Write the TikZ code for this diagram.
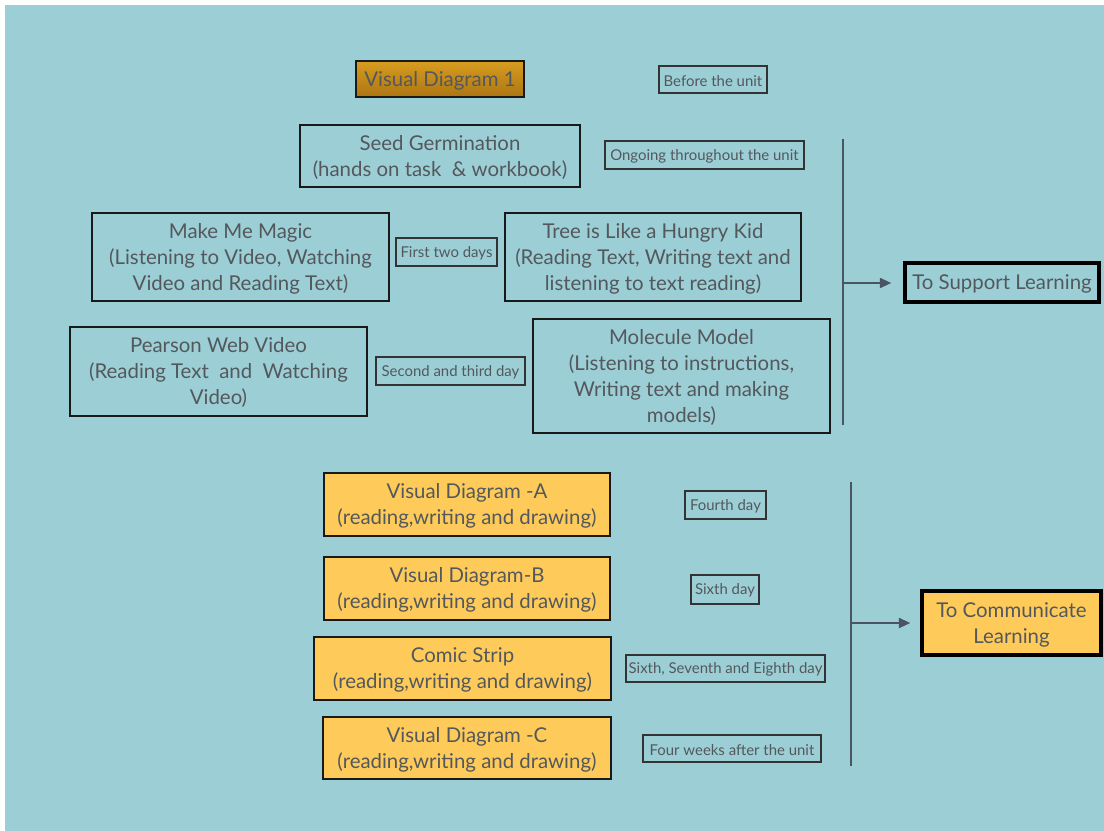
\documentclass[tikz,border=0pt]{standalone}
\usepackage{fontspec}
\setmainfont{Lato}
\usetikzlibrary{arrows.meta}
\definecolor{bgteal}{HTML}{9CCED6}
\definecolor{txtgray}{HTML}{53585C}
\definecolor{boxyellow}{HTML}{FECB5A}
\definecolor{orangetop}{HTML}{D89C20}
\definecolor{orangebot}{HTML}{AC7612}
\definecolor{linecol}{HTML}{4A5464}
\newcommand{\mlines}[1]{\raisebox{-1.6pt}[\height][\depth]{\begin{tabular}{@{}c@{}}#1\end{tabular}}}
\tikzset{
  mainbox/.style={draw=black!90, line width=1.6pt, align=center, text=txtgray, inner sep=0pt,
    font=\fontsize{15.3}{19.5}\selectfont},
  onebox/.style={mainbox, execute at begin node={\rule{0pt}{13.5pt}}},
  yellowbox/.style={mainbox, fill=boxyellow},
  labelbox/.style={draw=black!80, line width=0.9pt, align=center, text=txtgray, inner sep=0pt,
    font=\fontsize{11.2}{12}\selectfont, execute at begin node={\rule{0pt}{10pt}}},
  goalbox/.style={draw=black, line width=2.6pt, align=center, text=txtgray, inner sep=0pt,
    font=\fontsize{15.3}{19.5}\selectfont},
  bar/.style={draw=linecol, line width=1.5pt},
  arr/.style={draw=linecol, line width=1.3pt, -{Triangle[length=8.5pt,width=7.5pt]}}
}
\begin{document}
\begin{tikzpicture}[x=0.75pt,y=-0.75pt]
\useasboundingbox (0,0) rectangle (1104,831);
\fill[white] (0,0) rectangle (1104,831);
\fill[bgteal] (5,5) rectangle (1104,831);

\node[onebox, top color=orangetop, bottom color=orangebot, minimum width=126pt, minimum height=27pt] (vd1) at (440,79) {Visual Diagram 1};
\node[labelbox, minimum width=81pt, minimum height=20.25pt] (before) at (713,79.5) {Before the unit};

\node[mainbox, minimum width=210pt, minimum height=46.5pt] (seed) at (440,156) {\mlines{Seed Germination\\(hands on task \ \& workbook)}};
\node[labelbox, minimum width=149.25pt, minimum height=21pt] (ongoing) at (704.5,155) {Ongoing throughout the unit};

\node[mainbox, minimum width=222.75pt, minimum height=66pt] (magic) at (240.5,257) {\mlines{Make Me Magic\\(Listening to Video, Watching\\Video and Reading Text)}};
\node[labelbox, minimum width=75.75pt, minimum height=21pt] (first) at (446.5,252) {First two days};
\node[mainbox, minimum width=222pt, minimum height=66pt] (tree) at (653,257) {\mlines{Tree is Like a Hungry Kid\\(Reading Text, Writing text and\\listening to text reading)}};

\node[mainbox, minimum width=222.75pt, minimum height=66.75pt] (pearson) at (218.5,371.5) {\mlines{Pearson Web Video\\(Reading Text \ and \ Watching\\Video)}};
\node[labelbox, minimum width=111.75pt, minimum height=21pt] (second) at (450.5,371) {Second and third day};
\node[mainbox, minimum width=222.75pt, minimum height=85.5pt] (molecule) at (681.5,376) {\mlines{Molecule Model\\(Listening to instructions,\\Writing text and making\\models)}};

\coordinate (b1top) at (843,139);
\coordinate (b1bot) at (843,425);
\coordinate (b1mid) at (843,283);
\draw[bar] (b1top) -- (b1bot);
\node[goalbox, minimum width=145.5pt, minimum height=29.25pt, execute at begin node={\rule{0pt}{13.5pt}}] (support) at (1002,282.5) {To Support Learning};
\draw[arr, shorten >=9pt] (b1mid) -- (support.west |- b1mid);

\node[yellowbox, minimum width=214.5pt, minimum height=47.25pt] (vda) at (467,504.5) {\mlines{Visual Diagram -A\\(reading,writing and drawing)}};
\node[labelbox, minimum width=60.75pt, minimum height=21pt] (fourth) at (725.5,505) {Fourth day};
\node[yellowbox, minimum width=214.5pt, minimum height=47.25pt] (vdb) at (467,588.5) {\mlines{Visual Diagram-B\\(reading,writing and drawing)}};
\node[labelbox, minimum width=51pt, minimum height=21.75pt] (sixth) at (725,589.5) {Sixth day};
\node[yellowbox, minimum width=222.75pt, minimum height=47.25pt] (comic) at (462.5,668.5) {\mlines{Comic Strip\\(reading,writing and drawing)}};
\node[labelbox, minimum width=149.25pt, minimum height=20.25pt] (sse) at (725.5,668.5) {Sixth, Seventh and Eighth day};
\node[yellowbox, minimum width=216pt, minimum height=46.5pt] (vdc) at (467,748) {\mlines{Visual Diagram -C\\(reading,writing and drawing)}};
\node[labelbox, minimum width=133.5pt, minimum height=20.25pt] (four) at (732,748.5) {Four weeks after the unit};

\coordinate (b2top) at (851,482);
\coordinate (b2bot) at (851,766);
\coordinate (b2mid) at (851,623);
\draw[bar] (b2top) -- (b2bot);
\node[goalbox, fill=boxyellow, minimum width=134.25pt, minimum height=48pt] (comm) at (1011.5,623) {\mlines{To Communicate\\Learning}};
\draw[arr, shorten >=7.5pt] (b2mid) -- (comm.west |- b2mid);
\end{tikzpicture}
\end{document}
